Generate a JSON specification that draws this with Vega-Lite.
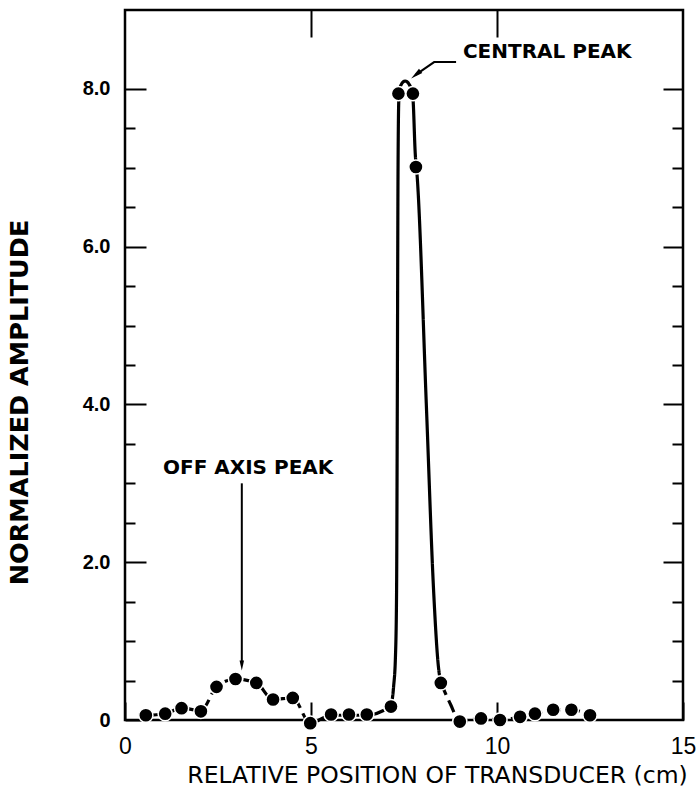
{
  "$schema": "https://vega.github.io/schema/vega-lite/v6.json",
  "width": 558,
  "height": 710,
  "autosize": "none",
  "padding": {"left": 125, "top": 10, "right": 13, "bottom": 73},
  "background": "white",
  "config": {
    "view": {"stroke": "black", "strokeWidth": 2.5},
    "axis": {"domain": false, "grid": false, "tickColor": "black", "tickWidth": 2, "labelColor": "black", "titleColor": "black", "labelFlush": false, "labelOverlap": false, "labelBound": false}
  },
  "datasets": {
    "pts": [
      {"x": 0.56, "y": 0.06}, {"x": 1.08, "y": 0.08}, {"x": 1.52, "y": 0.15}, {"x": 2.04, "y": 0.11},
      {"x": 2.46, "y": 0.42}, {"x": 2.97, "y": 0.52}, {"x": 3.53, "y": 0.47}, {"x": 3.98, "y": 0.26},
      {"x": 4.51, "y": 0.28}, {"x": 4.98, "y": -0.04}, {"x": 5.54, "y": 0.07}, {"x": 6.02, "y": 0.07},
      {"x": 6.5, "y": 0.07}, {"x": 7.15, "y": 0.17}, {"x": 7.35, "y": 7.94}, {"x": 7.74, "y": 7.94},
      {"x": 7.82, "y": 7.01}, {"x": 8.49, "y": 0.47}, {"x": 9.0, "y": -0.02}, {"x": 9.57, "y": 0.02},
      {"x": 10.08, "y": 0.0}, {"x": 10.62, "y": 0.04}, {"x": 11.02, "y": 0.08}, {"x": 11.51, "y": 0.13},
      {"x": 12.0, "y": 0.13}, {"x": 12.5, "y": 0.06}
    ],
    "curve": [
      {"seg": "A", "style": "dashed", "x": 0.56, "y": 0.06},
      {"seg": "A", "style": "dashed", "x": 1.08, "y": 0.08},
      {"seg": "A", "style": "dashed", "x": 1.52, "y": 0.15},
      {"seg": "A", "style": "dashed", "x": 2.04, "y": 0.12},
      {"seg": "A", "style": "dashed", "x": 2.46, "y": 0.42},
      {"seg": "A", "style": "dashed", "x": 2.97, "y": 0.52},
      {"seg": "A", "style": "dashed", "x": 3.53, "y": 0.47},
      {"seg": "A", "style": "dashed", "x": 3.98, "y": 0.26},
      {"seg": "A", "style": "dashed", "x": 4.51, "y": 0.28},
      {"seg": "A", "style": "dashed", "x": 4.98, "y": -0.04},
      {"seg": "A", "style": "dashed", "x": 5.54, "y": 0.06},
      {"seg": "A", "style": "dashed", "x": 6.02, "y": 0.06},
      {"seg": "A", "style": "dashed", "x": 6.5, "y": 0.06},
      {"seg": "A", "style": "dashed", "x": 7.15, "y": 0.17},
      {"seg": "B", "style": "solid", "x": 7.15, "y": 0.17},
      {"seg": "B", "style": "solid", "x": 7.22, "y": 0.42},
      {"seg": "B", "style": "solid", "x": 7.27, "y": 0.8},
      {"seg": "B", "style": "solid", "x": 7.3, "y": 1.6},
      {"seg": "B", "style": "solid", "x": 7.32, "y": 4.0},
      {"seg": "B", "style": "solid", "x": 7.34, "y": 7.0},
      {"seg": "B", "style": "solid", "x": 7.36, "y": 7.85},
      {"seg": "B", "style": "solid", "x": 7.4, "y": 8.03},
      {"seg": "B", "style": "solid", "x": 7.53, "y": 8.1},
      {"seg": "B", "style": "solid", "x": 7.67, "y": 8.03},
      {"seg": "B", "style": "solid", "x": 7.74, "y": 7.88},
      {"seg": "B", "style": "solid", "x": 7.8, "y": 7.2},
      {"seg": "B", "style": "solid", "x": 7.86, "y": 6.85},
      {"seg": "B", "style": "solid", "x": 8.1, "y": 4.0},
      {"seg": "B", "style": "solid", "x": 8.3, "y": 1.6},
      {"seg": "B", "style": "solid", "x": 8.42, "y": 0.7},
      {"seg": "B", "style": "solid", "x": 8.49, "y": 0.47},
      {"seg": "C", "style": "dashed", "x": 8.49, "y": 0.47},
      {"seg": "C", "style": "dashed", "x": 8.75, "y": 0.2},
      {"seg": "C", "style": "dashed", "x": 9.0, "y": -0.02},
      {"seg": "C", "style": "dashed", "x": 9.57, "y": 0.02},
      {"seg": "C", "style": "dashed", "x": 10.08, "y": 0.0},
      {"seg": "C", "style": "dashed", "x": 10.62, "y": 0.04},
      {"seg": "C", "style": "dashed", "x": 11.02, "y": 0.08},
      {"seg": "C", "style": "dashed", "x": 11.51, "y": 0.13},
      {"seg": "C", "style": "dashed", "x": 12.0, "y": 0.13},
      {"seg": "C", "style": "dashed", "x": 12.5, "y": 0.06}
    ],
    "arrows": [
      {"id": "central", "order": 1, "x": 8.9, "y": 8.34},
      {"id": "central", "order": 2, "x": 8.31, "y": 8.34},
      {"id": "central", "order": 3, "x": 7.82, "y": 8.18},
      {"id": "off", "order": 1, "x": 3.14, "y": 3.0},
      {"id": "off", "order": 2, "x": 3.14, "y": 0.72}
    ],
    "heads": [
      {"id": "central", "x": 7.82, "y": 8.18, "angle": 52, "size": 144},
      {"id": "off", "x": 3.14, "y": 0.69, "angle": 0, "size": 100}
    ],
    "labels": [
      {"text": "CENTRAL PEAK", "x": 11.35, "y": 8.47},
      {"text": "OFF AXIS PEAK", "x": 3.31, "y": 3.2}
    ]
  },
  "resolve": {"axis": {"x": "independent", "y": "independent"}},
  "layer": [
    {
      "data": {"name": "curve"},
      "mark": {"type": "line", "interpolate": "monotone", "color": "black", "strokeWidth": 3.2, "strokeCap": "butt"},
      "encoding": {
        "x": {"field": "x", "type": "quantitative", "scale": {"domain": [0, 15], "nice": false, "zero": false},
          "axis": {"orient": "bottom", "values": [0, 5, 10, 15], "tickSize": -18, "labelPadding": 33,
            "labelFont": "Liberation Sans", "labelFontSize": 23, "labelFontWeight": "normal",
            "title": "RELATIVE POSITION OF TRANSDUCER (cm)", "titleFont": "DejaVu Sans", "titleFontSize": 23.5, "titleFontWeight": "normal",
            "titleX": 312, "titleY": 55, "titleAlign": "center", "titleBaseline": "middle", "titleAnchor": null}},
        "y": {"field": "y", "type": "quantitative", "scale": {"domain": [0, 9], "nice": false, "zero": false},
          "axis": {"orient": "left", "values": [0, 0.5, 1, 1.5, 2, 2.5, 3, 3.5, 4, 4.5, 5, 5.5, 6, 6.5, 7, 7.5, 8],
            "tickSize": {"condition": {"test": "datum.value % 2 === 0", "value": -21}, "value": -10},
            "labelExpr": "datum.value % 2 === 0 ? (datum.value === 0 ? '0' : format(datum.value, '.1f')) : ''",
            "labelPadding": 36, "labelFont": "Liberation Sans", "labelFontSize": 20, "labelFontWeight": "bold",
            "title": "NORMALIZED   AMPLITUDE", "titleFont": "DejaVu Sans", "titleFontSize": 25.5, "titleFontWeight": "bold",
            "titleX": -106, "titleY": 392, "titleAngle": -90, "titleAlign": "center", "titleBaseline": "middle", "titleAnchor": null}},
        "detail": {"field": "seg", "type": "nominal"},
        "strokeDash": {"field": "style", "type": "nominal", "scale": {"domain": ["solid", "dashed"], "range": [[1, 0], [13, 6]]}, "legend": null}
      }
    },
    {
      "data": {"name": "pts"},
      "mark": {"type": "point", "shape": "circle", "filled": true, "fill": "black", "stroke": "white", "strokeWidth": 1.5, "size": 200, "opacity": 1},
      "encoding": {
        "x": {"field": "x", "type": "quantitative", "scale": {"domain": [0, 15], "nice": false, "zero": false},
          "axis": {"orient": "top", "values": [5, 10], "tickSize": -27, "labels": false, "title": null}},
        "y": {"field": "y", "type": "quantitative", "scale": {"domain": [0, 9], "nice": false, "zero": false},
          "axis": {"orient": "right", "values": [0.5, 1, 1.5, 2, 2.5, 3, 3.5, 4, 4.5, 5, 5.5, 6, 6.5, 7, 7.5, 8],
            "tickSize": {"condition": {"test": "datum.value % 2 === 0", "value": -20}, "value": -11},
            "labels": false, "title": null}}
      }
    },
    {
      "data": {"name": "arrows"},
      "mark": {"type": "line", "color": "black", "strokeWidth": 2},
      "encoding": {
        "x": {"field": "x", "type": "quantitative", "scale": {"domain": [0, 15], "nice": false, "zero": false}, "axis": null},
        "y": {"field": "y", "type": "quantitative", "scale": {"domain": [0, 9], "nice": false, "zero": false}, "axis": null},
        "detail": {"field": "id", "type": "nominal"},
        "order": {"field": "order", "type": "quantitative"},
        "strokeWidth": {"field": "id", "type": "nominal", "scale": {"domain": ["central", "off"], "range": [2.2, 1.6]}, "legend": null}
      }
    },
    {
      "data": {"name": "heads"},
      "mark": {"type": "point", "shape": "M-0.45,-1L0,1L0.45,-1Z", "filled": true, "color": "black", "opacity": 1},
      "encoding": {
        "x": {"field": "x", "type": "quantitative", "scale": {"domain": [0, 15], "nice": false, "zero": false}, "axis": null},
        "y": {"field": "y", "type": "quantitative", "scale": {"domain": [0, 9], "nice": false, "zero": false}, "axis": null},
        "angle": {"field": "angle", "type": "quantitative", "scale": null},
        "size": {"field": "size", "type": "quantitative", "scale": null}
      }
    },
    {
      "data": {"name": "labels"},
      "mark": {"type": "text", "font": "DejaVu Sans", "fontSize": 20, "fontWeight": "bold", "baseline": "middle", "align": "center", "color": "black"},
      "encoding": {
        "x": {"field": "x", "type": "quantitative", "scale": {"domain": [0, 15], "nice": false, "zero": false}, "axis": null},
        "y": {"field": "y", "type": "quantitative", "scale": {"domain": [0, 9], "nice": false, "zero": false}, "axis": null},
        "text": {"field": "text", "type": "nominal"}
      }
    }
  ]
}
